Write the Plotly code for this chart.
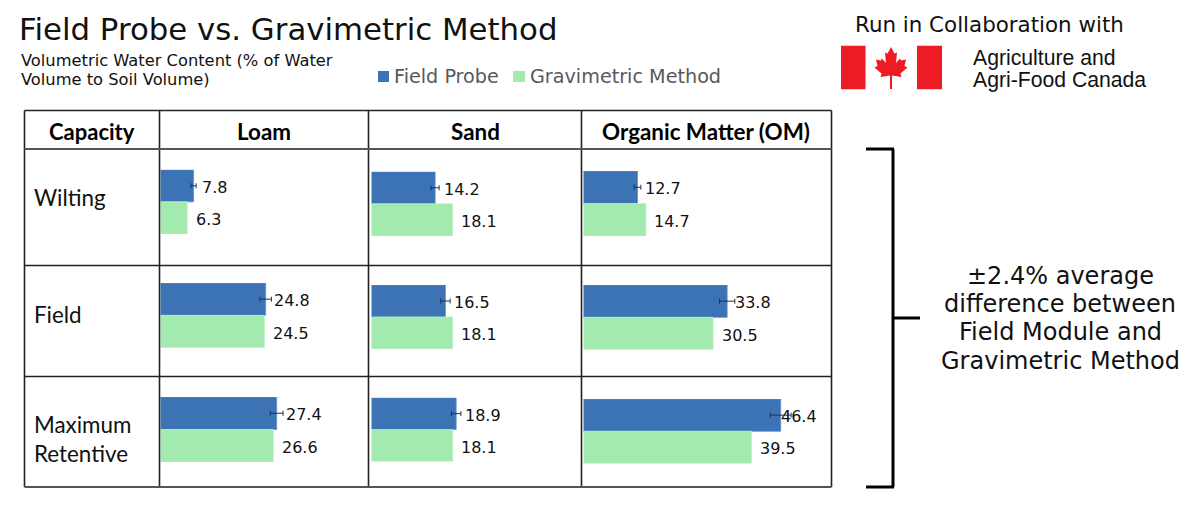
import plotly.graph_objects as go

W, H = 1202, 520

# ---- data ----
soils = ["Loam", "Sand", "Organic Matter (OM)"]
capacities = ["Wilting", "Field", "Maximum Retentive"]
series_names = ["Field Probe", "Gravimetric Method"]
probe = [[7.8, 14.2, 12.7], [24.8, 16.5, 33.8], [27.4, 18.9, 46.4]]
gravimetric = [[6.3, 18.1, 14.7], [24.5, 18.1, 30.5], [26.6, 18.1, 39.5]]
probe_err = [[0.6, 0.9, 0.8], [1.35, 1.05, 1.8], [1.5, 1.05, 2.45]]

# ---- layout (pixels) ----
BLUE, GREEN = "#3B73B5", "#A2EAAE"
DARK = "#222222"
col_lines = [24.5, 159.5, 368.5, 581.5, 831.5]
row_lines = [110.5, 149, 265.5, 376.5, 487]
base_x = [160.5, 371.5, 583.5]
px_per_unit = [4.24, 4.48, 4.25]
bar_top = [[169.7, 171.7, 171], [283, 285, 285], [397, 397.7, 399]]
bar_bottom = [[234, 236, 236], [347.7, 349, 349.7], [462, 461.5, 463.5]]
label_gap = [[6, 6.5, 6], [6, 7, 5.5], [7.5, 6.5, -1.5]]
GREEN_GAP = 6.5


def fx(x):
    return x / W


def fy(y):
    return 1 - y / H


def poly(points):
    return "M" + "L".join(f"{fx(x):.5f},{fy(y):.5f}" for x, y in points) + "Z"


fig = go.Figure()
shapes, annotations = [], []


def text(s, x, y, size, font="DejaVu Sans", color="#111111", anchor="left"):
    annotations.append(dict(text=s, x=fx(x - 3 if anchor == "left" else x), y=fy(y),
                            xref="paper", yref="paper",
                            xanchor=anchor, yanchor="middle", showarrow=False,
                            font=dict(family=font, size=size, color=color)))


def line(x0, y0, x1, y1, color=DARK, width=1.6):
    shapes.append(dict(type="line", xref="paper", yref="paper", x0=fx(x0), x1=fx(x1),
                       y0=fy(y0), y1=fy(y1), line=dict(color=color, width=width)))


def rect(x0, y0, x1, y1, color):
    shapes.append(dict(type="rect", xref="paper", yref="paper", x0=fx(x0), x1=fx(x1),
                       y0=fy(y0), y1=fy(y1), fillcolor=color, line=dict(width=0)))


# ---- bars ----
axes = {}
n = 0
for r in range(3):
    for c in range(3):
        n += 1
        sx = "" if n == 1 else str(n)
        x_end = col_lines[c + 2] - 1
        x_span = (x_end - base_x[c]) / px_per_unit[c]
        axes[f"xaxis{sx}"] = dict(domain=[fx(base_x[c]), fx(x_end)], range=[0, x_span],
                                  type="linear", visible=False, fixedrange=True,
                                  anchor=f"y{sx}")
        axes[f"yaxis{sx}"] = dict(domain=[fy(bar_bottom[r][c]), fy(bar_top[r][c])],
                                  range=[1.5, -0.5], visible=False, fixedrange=True,
                                  type="category", categoryorder="array",
                                  categoryarray=series_names, anchor=f"x{sx}")
        fig.add_trace(go.Bar(
            x=[probe[r][c]], y=[series_names[0]], orientation="h", width=1,
            name=series_names[0], showlegend=False, xaxis=f"x{sx}", yaxis=f"y{sx}",
            marker=dict(color=BLUE, line=dict(color="#5C8FCF", width=0.8)),
            cliponaxis=False,
            error_x=dict(type="data", array=[probe_err[r][c]], color="#1F3347",
                         thickness=1, width=2.5)))
        fig.add_trace(go.Bar(
            x=[gravimetric[r][c]], y=[series_names[1]], orientation="h", width=1,
            name=series_names[1], showlegend=False, xaxis=f"x{sx}", yaxis=f"y{sx}",
            cliponaxis=False,
            marker=dict(color=GREEN, line=dict(color="#BDF0C6", width=0.8))))
        for val, name, gap in ((probe[r][c], series_names[0], label_gap[r][c]),
                               (gravimetric[r][c], series_names[1], GREEN_GAP)):
            annotations.append(dict(text=f"{val:.1f}", x=val, y=name, xref=f"x{sx}", yref=f"y{sx}",
                                    xanchor="left", yanchor="middle", showarrow=False,
                                    xshift=gap, yshift=-1.5, align="left",
                                    font=dict(family="DejaVu Sans", size=16, color="#111111")))

# ---- table ----
for x in col_lines:
    line(x, row_lines[0], x, row_lines[-1])
for i, y in enumerate(row_lines):
    line(col_lines[0], y, col_lines[-1], y, color="#555555" if i in (1, 4) else DARK,
         width=2 if i in (1, 4) else 1.6)

text("<b>Capacity</b>", 92, 131, 22, "Lato", "#000000", "center")
for name, cx in zip(soils, (264, 475, 706)):
    text(f"<b>{name}</b>", cx, 131, 22.4, "Lato", "#000000", "center")
text(capacities[0], 35, 197, 22.4, "Lato")
text(capacities[1], 35, 314, 22.4, "Lato")
for word, y in zip(capacities[2].split(), (424, 453)):
    text(word, 35, y, 22.4, "Lato")

# ---- headings ----
text("Field Probe vs. Gravimetric Method", 20, 29, 30.8)
text("Volumetric Water Content (% of Water", 22, 60, 16.3)
text("Volume to Soil Volume)", 22, 79, 16.3)

# ---- legend ----
rect(378, 71, 389, 82, BLUE)
text(series_names[0], 395, 76, 19.2, color="#595959")
rect(513, 71, 525, 82, GREEN)
text(series_names[1], 531, 76, 19.2, color="#595959")

# ---- collaboration block ----
text("Run in Collaboration with", 856, 24, 21.4)
RED = "#ED1C24"
rect(841, 45.7, 865.5, 89.3, RED)
rect(917, 45.7, 942, 89.3, RED)
half = [(0, 47), (3.5, 53.5), (6, 52.5), (5, 63), (9, 58.5), (10, 60.5), (15, 59.5), (13.5, 66),
        (16.5, 67.5), (9.5, 73.5), (10.5, 77), (1, 75.5), (1, 89)]
leaf = [(891 + dx, y) for dx, y in half] + [(891 - dx, y) for dx, y in reversed(half)]
shapes.append(dict(type="path", xref="paper", yref="paper", path=poly(leaf),
                   fillcolor=RED, line=dict(width=0)))
text("Agriculture and", 974, 58, 21.2, "Liberation Sans")
text("Agri-Food Canada", 974, 80, 21.2, "Liberation Sans")

# ---- bracket + note ----
line(866, 149, 894, 149, "#000000", 3)
line(893, 149, 893, 487, "#000000", 3)
line(866, 487, 894, 487, "#000000", 3)
line(893, 318, 920, 318, "#000000", 3)
for s, y in zip(("±2.4% average", "difference between", "Field Module and", "Gravimetric Method"),
                (276, 304, 332, 361)):
    text(s, 1060, y, 24, anchor="center")

fig.update_layout(width=W, height=H, margin=dict(l=0, r=0, t=0, b=0),
                  paper_bgcolor="white", plot_bgcolor="rgba(0,0,0,0)",
                  barmode="overlay", shapes=shapes, annotations=annotations,
                  showlegend=False, **axes)
fig.write_html("out.html", config={"displayModeBar": False},
               post_script="document.body.style.margin='0';document.body.style.overflow='hidden';")
